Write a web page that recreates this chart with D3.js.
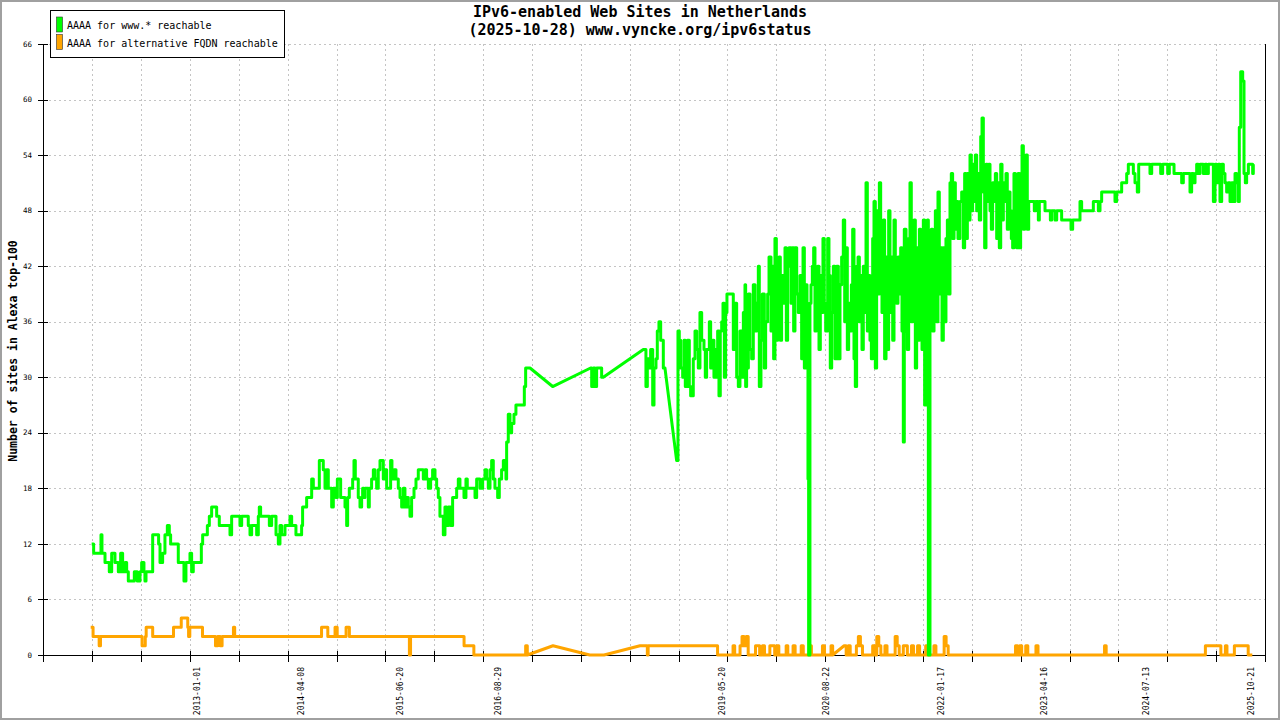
<html lang="en">
<head>
<meta charset="UTF-8">
<title>IPv6-enabled Web Sites in Netherlands</title>
<style>
  body { margin: 0; background: #fff; }
  svg { display: block; }
  text { font-family: "DejaVu Sans Mono", monospace; }
</style>
</head>
<body>
<svg id="chart" width="1280" height="720"></svg>
<script src="https://d3js.org/d3.v7.min.js"></script>
<script>
// titles / legend
const titleLines = ["IPv6-enabled Web Sites in Netherlands", "(2025-10-28) www.vyncke.org/ipv6status"];
const yTitle = "Number of sites in Alexa top-100";
const legendLabels = ["AAAA for www.* reachable", "AAAA for alternative FQDN reachable"];
const seriesColors = ["#00ff00", "#ffa500"];

// axes
const yTickValues = [0, 6, 12, 18, 24, 30, 36, 42, 48, 54, 60, 66];
const xLabelDates = ["2013-01-01", "2014-04-08", "2015-06-20", "2016-08-29", "2019-05-20",
                     "2020-08-22", "2022-01-17", "2023-04-16", "2024-07-13", "2025-10-21"];
const xDomain = [2011.142, 2025.972];   // decimal years
const xTickFirst = 2011.728;
const xTickCount = 25;

// [decimal year, sites] : AAAA for www.*
const wwwReachable = [
  [2011.721,12],[2011.745,11],[2011.814,11],[2011.834,13],[2011.846,11],[2011.862,11],[2011.883,10],[2011.903,10],
  [2011.935,9],[2011.964,11],[2011.992,11],[2012.004,10],[2012.032,10],[2012.045,9],[2012.073,11],[2012.097,9],
  [2012.126,10],[2012.146,9],[2012.166,8],[2012.227,8],[2012.239,9],[2012.267,9],[2012.275,8],[2012.308,9],
  [2012.328,10],[2012.356,9],[2012.368,8],[2012.381,9],[2012.449,9],[2012.462,13],[2012.510,13],[2012.534,12],
  [2012.551,10],[2012.583,11],[2012.611,13],[2012.640,14],[2012.664,13],[2012.680,12],[2012.761,12],[2012.773,10],
  [2012.814,10],[2012.842,8],[2012.866,10],[2012.915,11],[2012.935,9],[2012.955,10],[2013.028,10],[2013.053,12],
  [2013.069,13],[2013.109,13],[2013.126,14],[2013.150,15],[2013.178,16],[2013.219,16],[2013.239,15],[2013.271,14],
  [2013.381,14],[2013.401,13],[2013.421,15],[2013.514,15],[2013.522,14],[2013.543,15],[2013.603,15],[2013.623,14],
  [2013.644,13],[2013.664,14],[2013.705,14],[2013.725,13],[2013.745,15],[2013.757,16],[2013.773,15],[2013.866,15],
  [2013.879,14],[2013.907,15],[2013.935,15],[2013.960,13],[2013.988,12],[2014.008,14],[2014.028,13],[2014.057,13],
  [2014.069,14],[2014.109,14],[2014.130,15],[2014.150,14],[2014.190,14],[2014.202,13],[2014.251,13],[2014.271,14],
  [2014.283,16],[2014.312,16],[2014.332,17],[2014.372,17],[2014.393,19],[2014.413,18],[2014.462,18],[2014.486,21],
  [2014.514,21],[2014.534,20],[2014.555,18],[2014.575,20],[2014.595,18],[2014.624,18],[2014.636,16],[2014.656,18],
  [2014.688,17],[2014.705,19],[2014.729,19],[2014.745,17],[2014.777,17],[2014.798,16],[2014.818,14],[2014.830,17],
  [2014.850,18],[2014.879,18],[2014.891,19],[2014.907,21],[2014.923,19],[2014.947,19],[2014.959,17],[2014.980,16],
  [2015.000,17],[2015.012,18],[2015.028,17],[2015.041,18],[2015.069,18],[2015.081,16],[2015.093,18],[2015.121,19],
  [2015.142,20],[2015.162,19],[2015.182,18],[2015.202,20],[2015.223,21],[2015.255,21],[2015.263,19],[2015.283,20],
  [2015.304,18],[2015.336,18],[2015.352,21],[2015.368,19],[2015.393,20],[2015.417,19],[2015.445,18],[2015.466,17],
  [2015.486,16],[2015.506,18],[2015.526,16],[2015.547,17],[2015.567,16],[2015.587,15],[2015.607,17],[2015.636,18],
  [2015.660,19],[2015.688,20],[2015.729,20],[2015.749,19],[2015.769,20],[2015.789,19],[2015.810,18],[2015.838,19],
  [2015.862,20],[2015.891,19],[2015.911,18],[2015.931,17],[2015.951,15],[2015.972,15],[2015.992,13],[2016.012,16],
  [2016.032,14],[2016.053,16],[2016.081,14],[2016.105,17],[2016.134,17],[2016.154,18],[2016.174,19],[2016.194,18],
  [2016.227,18],[2016.243,17],[2016.267,19],[2016.283,18],[2016.356,18],[2016.377,17],[2016.397,19],[2016.417,19],
  [2016.437,18],[2016.470,19],[2016.498,20],[2016.518,19],[2016.538,18],[2016.559,20],[2016.579,21],[2016.599,19],
  [2016.619,18],[2016.640,18],[2016.652,17],[2016.672,19],[2016.700,20],[2016.721,21],[2016.741,20],[2016.753,19],
  [2016.761,23],[2016.781,26],[2016.802,24],[2016.822,25],[2016.842,25],[2016.850,26],[2016.874,27],[2016.964,27],
  [2016.976,29],[2016.992,31],[2017.045,31],[2017.320,29],[2017.781,31],[2017.794,29],[2017.814,31],[2017.834,29],
  [2017.854,31],[2017.895,31],[2017.915,30],[2017.935,30],[2018.421,33],[2018.441,33],[2018.453,29],[2018.470,32],
  [2018.494,31],[2018.510,33],[2018.535,27],[2018.551,31],[2018.575,32],[2018.591,35],[2018.611,36],[2018.632,34],
  [2018.664,31],[2018.684,31],[2018.826,21],[2018.842,35],[2018.858,34],[2018.875,31],[2018.899,30],[2018.915,34],
  [2018.931,29],[2018.956,34],[2018.980,29],[2018.996,28],[2019.020,28],[2019.028,32],[2019.049,35],[2019.069,33],
  [2019.089,31],[2019.109,37],[2019.130,34],[2019.158,33],[2019.174,30],[2019.190,33],[2019.223,36],[2019.239,31],
  [2019.263,34],[2019.279,30],[2019.296,33],[2019.304,30],[2019.324,35],[2019.340,28],[2019.356,35],[2019.373,36],
  [2019.389,38],[2019.405,30],[2019.421,37],[2019.437,39],[2019.474,39],[2019.514,33],[2019.535,38],[2019.555,30],
  [2019.575,29],[2019.595,35],[2019.616,30],[2019.636,37],[2019.656,40],[2019.664,29],[2019.676,31],[2019.697,39],
  [2019.717,33],[2019.737,32],[2019.757,40],[2019.778,35],[2019.798,38],[2019.818,42],[2019.830,29],[2019.850,34],
  [2019.867,39],[2019.891,31],[2019.907,36],[2019.931,39],[2019.948,43],[2019.972,35],[2019.988,42],[2020.004,32],
  [2020.020,45],[2020.037,34],[2020.053,42],[2020.069,43],[2020.085,34],[2020.101,41],[2020.122,38],[2020.142,44],
  [2020.158,34],[2020.174,42],[2020.190,44],[2020.215,38],[2020.231,44],[2020.247,35],[2020.263,44],[2020.284,39],
  [2020.304,37],[2020.324,41],[2020.344,32],[2020.361,44],[2020.377,31],[2020.393,40],[2020.409,38],[2020.421,19],
  [2020.429,0],[2020.437,0],[2020.445,38],[2020.458,40],[2020.474,42],[2020.490,44],[2020.506,35],[2020.522,38],
  [2020.539,42],[2020.555,33],[2020.571,41],[2020.587,37],[2020.603,45],[2020.619,38],[2020.636,35],[2020.660,45],
  [2020.676,41],[2020.692,31],[2020.709,37],[2020.729,42],[2020.749,32],[2020.769,42],[2020.790,32],[2020.810,40],
  [2020.830,43],[2020.850,47],[2020.867,36],[2020.883,44],[2020.899,33],[2020.915,38],[2020.931,35],[2020.948,40],
  [2020.964,46],[2020.980,32],[2020.996,29],[2021.012,42],[2021.029,43],[2021.045,36],[2021.061,41],[2021.077,33],
  [2021.093,42],[2021.110,37],[2021.126,51],[2021.142,35],[2021.158,41],[2021.174,34],[2021.191,32],[2021.207,45],
  [2021.223,49],[2021.239,31],[2021.255,48],[2021.271,39],[2021.288,51],[2021.304,44],[2021.320,37],[2021.336,47],
  [2021.352,32],[2021.369,43],[2021.385,33],[2021.401,48],[2021.417,37],[2021.433,43],[2021.450,34],[2021.466,47],
  [2021.482,42],[2021.498,38],[2021.514,43],[2021.531,39],[2021.547,44],[2021.563,35],[2021.579,23],[2021.591,46],
  [2021.612,35],[2021.628,33],[2021.644,45],[2021.660,51],[2021.676,36],[2021.693,43],[2021.709,47],[2021.725,31],
  [2021.741,44],[2021.757,34],[2021.774,46],[2021.790,37],[2021.806,33],[2021.822,47],[2021.838,27],[2021.854,31],
  [2021.871,47],[2021.883,0],[2021.891,0],[2021.903,39],[2021.919,46],[2021.935,35],[2021.952,45],[2021.968,48],
  [2021.984,36],[2022.000,50],[2022.016,39],[2022.033,44],[2022.049,34],[2022.065,44],[2022.081,36],[2022.097,45],
  [2022.114,47],[2022.130,39],[2022.146,51],[2022.162,52],[2022.178,45],[2022.195,51],[2022.211,46],[2022.227,49],
  [2022.243,45],[2022.267,49],[2022.288,50],[2022.308,44],[2022.324,52],[2022.340,45],[2022.357,52],[2022.373,47],
  [2022.389,54],[2022.405,48],[2022.421,53],[2022.438,49],[2022.454,54],[2022.470,48],[2022.486,52],[2022.502,47],
  [2022.519,56],[2022.535,58],[2022.551,50],[2022.567,44],[2022.583,53],[2022.600,49],[2022.616,53],[2022.632,48],
  [2022.648,46],[2022.664,51],[2022.681,49],[2022.697,52],[2022.713,45],[2022.729,51],[2022.745,44],[2022.762,53],
  [2022.778,47],[2022.794,51],[2022.810,49],[2022.826,52],[2022.842,46],[2022.859,50],[2022.875,48],[2022.891,45],
  [2022.907,44],[2022.923,52],[2022.940,46],[2022.956,44],[2022.972,52],[2022.988,44],[2023.004,52],[2023.021,55],
  [2023.037,46],[2023.053,53],[2023.069,54],[2023.085,46],[2023.102,49],[2023.158,49],[2023.170,48],[2023.187,49],
  [2023.207,49],[2023.219,47],[2023.231,49],[2023.288,49],[2023.300,48],[2023.352,48],[2023.365,47],[2023.381,48],
  [2023.421,47],[2023.442,48],[2023.490,48],[2023.502,47],[2023.604,47],[2023.616,46],[2023.636,47],[2023.705,47],
  [2023.725,49],[2023.745,48],[2023.867,48],[2023.887,49],[2023.936,49],[2023.948,48],[2023.968,49],[2023.988,50],
  [2024.130,50],[2024.150,49],[2024.170,50],[2024.211,50],[2024.231,51],[2024.272,51],[2024.292,52],[2024.312,53],
  [2024.361,53],[2024.373,52],[2024.393,51],[2024.421,50],[2024.438,53],[2024.555,53],[2024.575,52],[2024.596,53],
  [2024.689,53],[2024.705,52],[2024.729,53],[2024.770,53],[2024.790,52],[2024.810,53],[2024.838,53],[2024.867,52],
  [2024.940,52],[2024.960,51],[2024.980,52],[2025.041,52],[2025.061,50],[2025.081,52],[2025.102,51],[2025.122,52],
  [2025.142,53],[2025.162,52],[2025.183,53],[2025.223,52],[2025.243,53],[2025.264,52],[2025.284,53],[2025.324,53],
  [2025.345,49],[2025.365,53],[2025.385,51],[2025.405,53],[2025.425,49],[2025.446,53],[2025.466,52],[2025.486,51],
  [2025.506,50],[2025.527,51],[2025.547,49],[2025.567,51],[2025.587,49],[2025.608,52],[2025.628,51],[2025.648,49],
  [2025.660,57],[2025.677,63],[2025.701,62],[2025.717,52],[2025.733,51],[2025.749,52],[2025.770,53],[2025.810,53],
  [2025.822,52],[2025.830,53]
];

// [decimal year, sites] : AAAA for alternative FQDN
const altReachable = [
  [2011.709,3],[2011.738,2],[2011.798,2],[2011.812,1],[2011.828,2],[2012.319,2],[2012.333,1],[2012.353,1],
  [2012.372,2],[2012.383,3],[2012.442,3],[2012.462,2],[2012.690,2],[2012.715,3],[2012.789,3],[2012.809,4],
  [2012.869,4],[2012.888,3],[2012.898,2],[2012.913,3],[2013.046,3],[2013.067,2],[2013.210,2],[2013.225,1],
  [2013.250,2],[2013.284,1],[2013.305,2],[2013.434,2],[2013.443,3],[2013.458,2],[2014.499,2],[2014.513,3],
  [2014.573,3],[2014.589,2],[2014.663,2],[2014.677,3],[2014.703,2],[2014.796,2],[2014.811,3],[2014.851,2],
  [2015.565,2],[2015.580,0],[2015.594,2],[2016.235,2],[2016.244,1],[2016.348,1],[2016.363,0],[2016.978,0],
  [2016.992,1],[2017.012,0],[2017.324,1],[2017.771,0],[2017.944,0],[2018.381,1],[2018.455,1],[2018.470,0],
  [2018.480,1],[2019.298,1],[2019.323,0],[2019.497,0],[2019.511,1],[2019.531,0],[2019.571,0],[2019.596,1],
  [2019.620,2],[2019.645,1],[2019.670,2],[2019.695,0],[2019.769,0],[2019.784,1],[2019.819,1],[2019.834,0],
  [2019.868,1],[2019.893,0],[2019.958,1],[2020.017,0],[2020.042,1],[2020.067,0],[2020.141,0],[2020.156,1],
  [2020.176,0],[2020.240,1],[2020.265,0],[2020.339,1],[2020.364,0],[2020.453,1],[2020.463,0],[2020.585,0],
  [2020.597,1],[2020.622,0],[2020.701,1],[2020.721,0],[2020.860,1],[2020.885,0],[2020.910,1],[2020.934,0],
  [2021.009,1],[2021.033,2],[2021.058,1],[2021.083,0],[2021.195,0],[2021.207,1],[2021.232,0],[2021.257,2],
  [2021.281,1],[2021.306,0],[2021.356,1],[2021.381,0],[2021.480,2],[2021.505,1],[2021.529,0],[2021.579,1],
  [2021.628,0],[2021.678,1],[2021.703,0],[2021.752,1],[2021.777,0],[2021.851,1],[2021.876,0],[2021.951,1],
  [2021.975,0],[2022.075,2],[2022.099,1],[2022.124,0],[2022.930,0],[2022.942,1],[2022.967,0],[2022.992,1],
  [2023.017,0],[2023.066,1],[2023.091,0],[2023.190,1],[2023.215,0],[2024.010,0],[2024.023,1],[2024.043,0],
  [2025.223,0],[2025.248,1],[2025.421,1],[2025.436,0],[2025.471,0],[2025.491,1],[2025.510,0],[2025.580,0],
  [2025.600,1],[2025.744,1],[2025.768,0],[2025.818,0]
];

const W = 1280, H = 720;
const svg = d3.select('#chart');

// outer frame
svg.append('rect').attr('x', 1).attr('y', 1).attr('width', W - 2).attr('height', H - 2)
  .attr('fill', '#fff').attr('stroke', '#a0a0a0').attr('stroke-width', 2);

const x = d3.scaleLinear().domain(xDomain).range([44, 1265]);
const y = d3.scaleLinear().domain([0, 66]).range([655, 44]);

// date string -> decimal year
function decYear(s) {
  const d = new Date(s + 'T00:00:00Z'), yr = d.getUTCFullYear();
  const a = Date.UTC(yr, 0, 1), b = Date.UTC(yr + 1, 0, 1);
  return yr + (d - a) / (b - a);
}

const xTicks = d3.range(xTickCount).map(i => xTickFirst + i * (xDomain[1] - xTickFirst) / (xTickCount - 1));

// grid
const grid = svg.append('g').attr('stroke', '#c4c4c4').attr('stroke-dasharray', '2,3').attr('shape-rendering', 'crispEdges');
grid.selectAll('.gy').data(yTickValues).join('line')
  .attr('x1', 44).attr('x2', 1265).attr('y1', d => Math.round(y(d)) + 0.5).attr('y2', d => Math.round(y(d)) + 0.5);
grid.selectAll('.gx').data(xTicks.slice(0, -1)).join('line')
  .attr('x1', d => Math.round(x(d)) + 0.5).attr('x2', d => Math.round(x(d)) + 0.5).attr('y1', 44).attr('y2', 655);

// axes
const ax = svg.append('g').attr('stroke', '#000').attr('shape-rendering', 'crispEdges');
ax.append('line').attr('x1', 43.5).attr('x2', 43.5).attr('y1', 44).attr('y2', 662);
ax.append('line').attr('x1', 1265.5).attr('x2', 1265.5).attr('y1', 44).attr('y2', 662);
ax.append('line').attr('x1', 44).attr('x2', 1266).attr('y1', 655.5).attr('y2', 655.5);
ax.selectAll('.ty').data(yTickValues).join('line')
  .attr('x1', 38).attr('x2', 48).attr('y1', d => Math.round(y(d)) + 0.5).attr('y2', d => Math.round(y(d)) + 0.5);
ax.selectAll('.tx').data(xTicks).join('line')
  .attr('x1', d => Math.round(x(d)) + 0.5).attr('x2', d => Math.round(x(d)) + 0.5).attr('y1', 651).attr('y2', 662);

svg.append('g').selectAll('text').data(yTickValues).join('text')
  .attr('x', 32).attr('y', d => y(d)).attr('dy', '0.35em')
  .attr('text-anchor', 'end').attr('font-size', 7.5).text(d => d);

svg.append('g').selectAll('text').data(xLabelDates).join('text')
  .attr('transform', d => `translate(${x(decYear(d))},667) rotate(-90)`)
  .attr('dy', '0.35em').attr('text-anchor', 'end').attr('font-size', 8).text(d => d);

// lines: short gaps drawn as steps, long gaps as straight joins
function stepped(series, gap) {
  const out = [];
  series.forEach((p, i) => {
    const prev = series[i - 1];
    if (prev && p[0] - prev[0] < gap && p[1] !== prev[1]) out.push([p[0], prev[1]]);
    out.push(p);
  });
  return out;
}
const line = d3.line().x(d => x(d[0])).y(d => y(d[1]));

[altReachable, wwwReachable].forEach((s, i) => {
  svg.append('path').attr('d', line(stepped(s, 0.12)))
    .attr('fill', 'none').attr('stroke', seriesColors[1 - i])
    .attr('stroke-width', 3).attr('stroke-linejoin', 'round');
});

// titles
svg.append('g').selectAll('text').data(titleLines).join('text')
  .attr('x', 640).attr('y', (d, i) => 17 + i * 18).attr('text-anchor', 'middle')
  .attr('font-size', 15).attr('font-weight', 'bold').text(d => d);

svg.append('text').attr('transform', 'translate(17,351) rotate(-90)')
  .attr('text-anchor', 'middle').attr('font-size', 11.5).attr('font-weight', 'bold').text(yTitle);

// legend
const lg = svg.append('g');
lg.append('rect').attr('x', 50.5).attr('y', 10.5).attr('width', 234).attr('height', 47)
  .attr('fill', '#fff').attr('stroke', '#000');
lg.selectAll('.sw').data(legendLabels).join('rect')
  .attr('x', 56.5).attr('y', (d, i) => 17 + i * 17.5).attr('width', 6).attr('height', 15)
  .attr('fill', (d, i) => seriesColors[i]).attr('stroke', '#333').attr('stroke-width', 0.6);
lg.selectAll('text').data(legendLabels).join('text')
  .attr('x', 67).attr('y', (d, i) => 29 + i * 17.5).attr('font-size', 10).text(d => d);
</script>
</body>
</html>
